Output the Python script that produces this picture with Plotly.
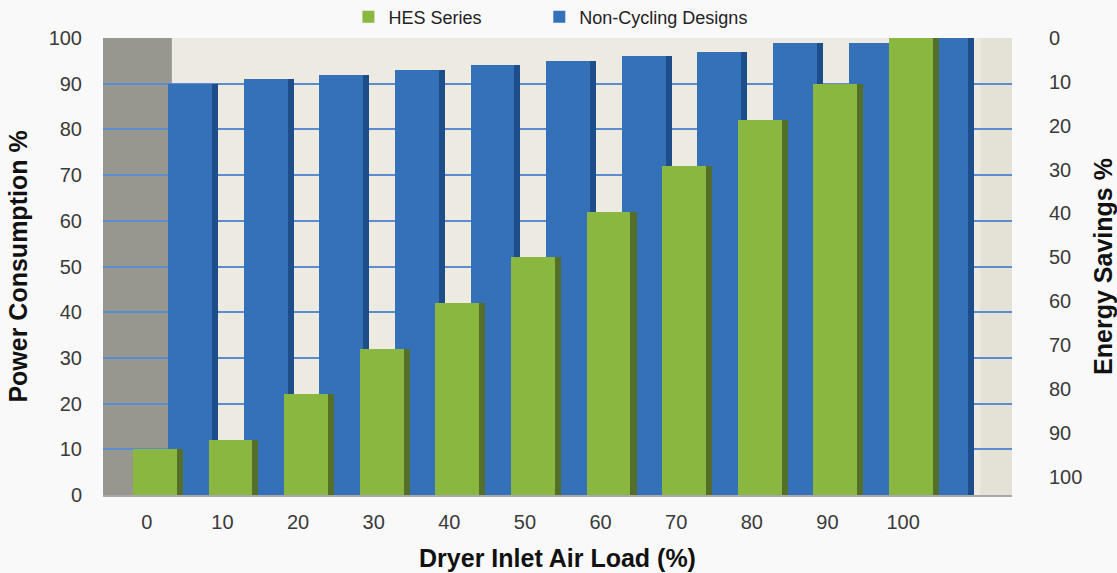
import numpy as np
import plotly.graph_objects as go

load_labels = ["0", "10", "20", "30", "40", "50", "60", "70", "80", "90", "100"]
hes_series = [10, 12, 22, 32, 42, 52, 62, 72, 82, 90, 100]
non_cycling = [90, 91, 92, 93, 94, 95, 96, 97, 99, 99, 100]
left_ticks = list(range(0, 101, 10))
right_ticks = list(range(0, 101, 10))

idx = np.arange(len(load_labels))

BLUE_FACE = "#3471B9"
BLUE_SIDE = "#1D4E8A"
GREEN_FACE = "#8AB73F"
GREEN_SIDE = "#546F29"

fig = go.Figure()

# Non-cycling designs (behind): side face then front face
fig.add_trace(go.Bar(x=idx, y=non_cycling, offset=0.855, width=0.085,
                     marker=dict(color=BLUE_SIDE, line=dict(width=0)),
                     showlegend=False, hoverinfo="skip"))
fig.add_trace(go.Bar(x=idx, y=non_cycling, offset=0.28, width=0.58,
                     name="Non-Cycling Designs", legend="legend2",
                     marker=dict(color=BLUE_FACE, line=dict(width=0))))
# HES series (front)
fig.add_trace(go.Bar(x=idx, y=hes_series, offset=0.39, width=0.085,
                     marker=dict(color=GREEN_SIDE, line=dict(width=0)),
                     showlegend=False, hoverinfo="skip"))
fig.add_trace(go.Bar(x=idx, y=hes_series, offset=-0.185, width=0.58,
                     name="HES Series", legend="legend",
                     marker=dict(color=GREEN_FACE, line=dict(width=0))))

# invisible trace to activate the right axis
fig.add_trace(go.Scatter(x=[idx[0]], y=[0], yaxis="y2", mode="markers",
                         marker=dict(opacity=0), showlegend=False, hoverinfo="skip"))

FONT = "Liberation Sans, Arial, sans-serif"
tick_font = dict(family=FONT, size=20, color="#3a3a3a")
title_font = dict(family=FONT, size=25, color="#111111")
legend_font = dict(family=FONT, size=18, color="#222222")

fig.update_layout(
    width=1117, height=573,
    margin=dict(l=103, r=105, t=38, b=78, autoexpand=False),
    paper_bgcolor="#F9F9F9",
    plot_bgcolor="#EDEBE1",
    barmode="overlay",
    bargap=0,
    legend=dict(orientation="h", x=0.27, xanchor="left", y=1.046, yanchor="middle",
                font=legend_font, bgcolor="rgba(0,0,0,0)"),
    legend2=dict(orientation="h", x=0.48, xanchor="left", y=1.046, yanchor="middle",
                 font=legend_font, bgcolor="rgba(0,0,0,0)"),
    xaxis=dict(range=[-0.58, 11.44], tickvals=idx, ticktext=load_labels,
               showgrid=False, zeroline=False, showline=True, linecolor="#A8A8A8",
               linewidth=2, ticks="", ticklabelstandoff=8, tickfont=tick_font,
               title=dict(text="<b>Dryer Inlet Air Load (%)</b>", font=title_font, standoff=17)),
    yaxis=dict(range=[0, 100], tickvals=left_ticks, showgrid=True, gridcolor="#5A8CCF",
               gridwidth=1.5, zeroline=False, ticks="", ticklabelstandoff=20,
               tickfont=tick_font,
               title=dict(text="<b>Power Consumption %</b>", font=title_font, standoff=13)),
    yaxis2=dict(overlaying="y", side="right", range=[104.2, 0], tickvals=right_ticks,
                showgrid=False, zeroline=False, ticks="", ticklabelstandoff=36,
                tickfont=tick_font,
                title=dict(text="<b>Energy Savings %</b>", font=title_font, standoff=17)),
    shapes=[
        dict(type="rect", xref="x", yref="paper", x0=-0.58, x1=0.33, y0=0, y1=1,
             fillcolor="#97968F", line=dict(width=0), layer="below"),
        dict(type="rect", xref="x", yref="paper", x0=11.02, x1=11.44, y0=0, y1=1,
             fillcolor="#E4E2D7", line=dict(width=0), layer="below"),
    ],
)

fig.write_html("out.html", config={"displayModeBar": False},
               post_script="document.body.style.margin='0';document.body.style.overflow='hidden';")
